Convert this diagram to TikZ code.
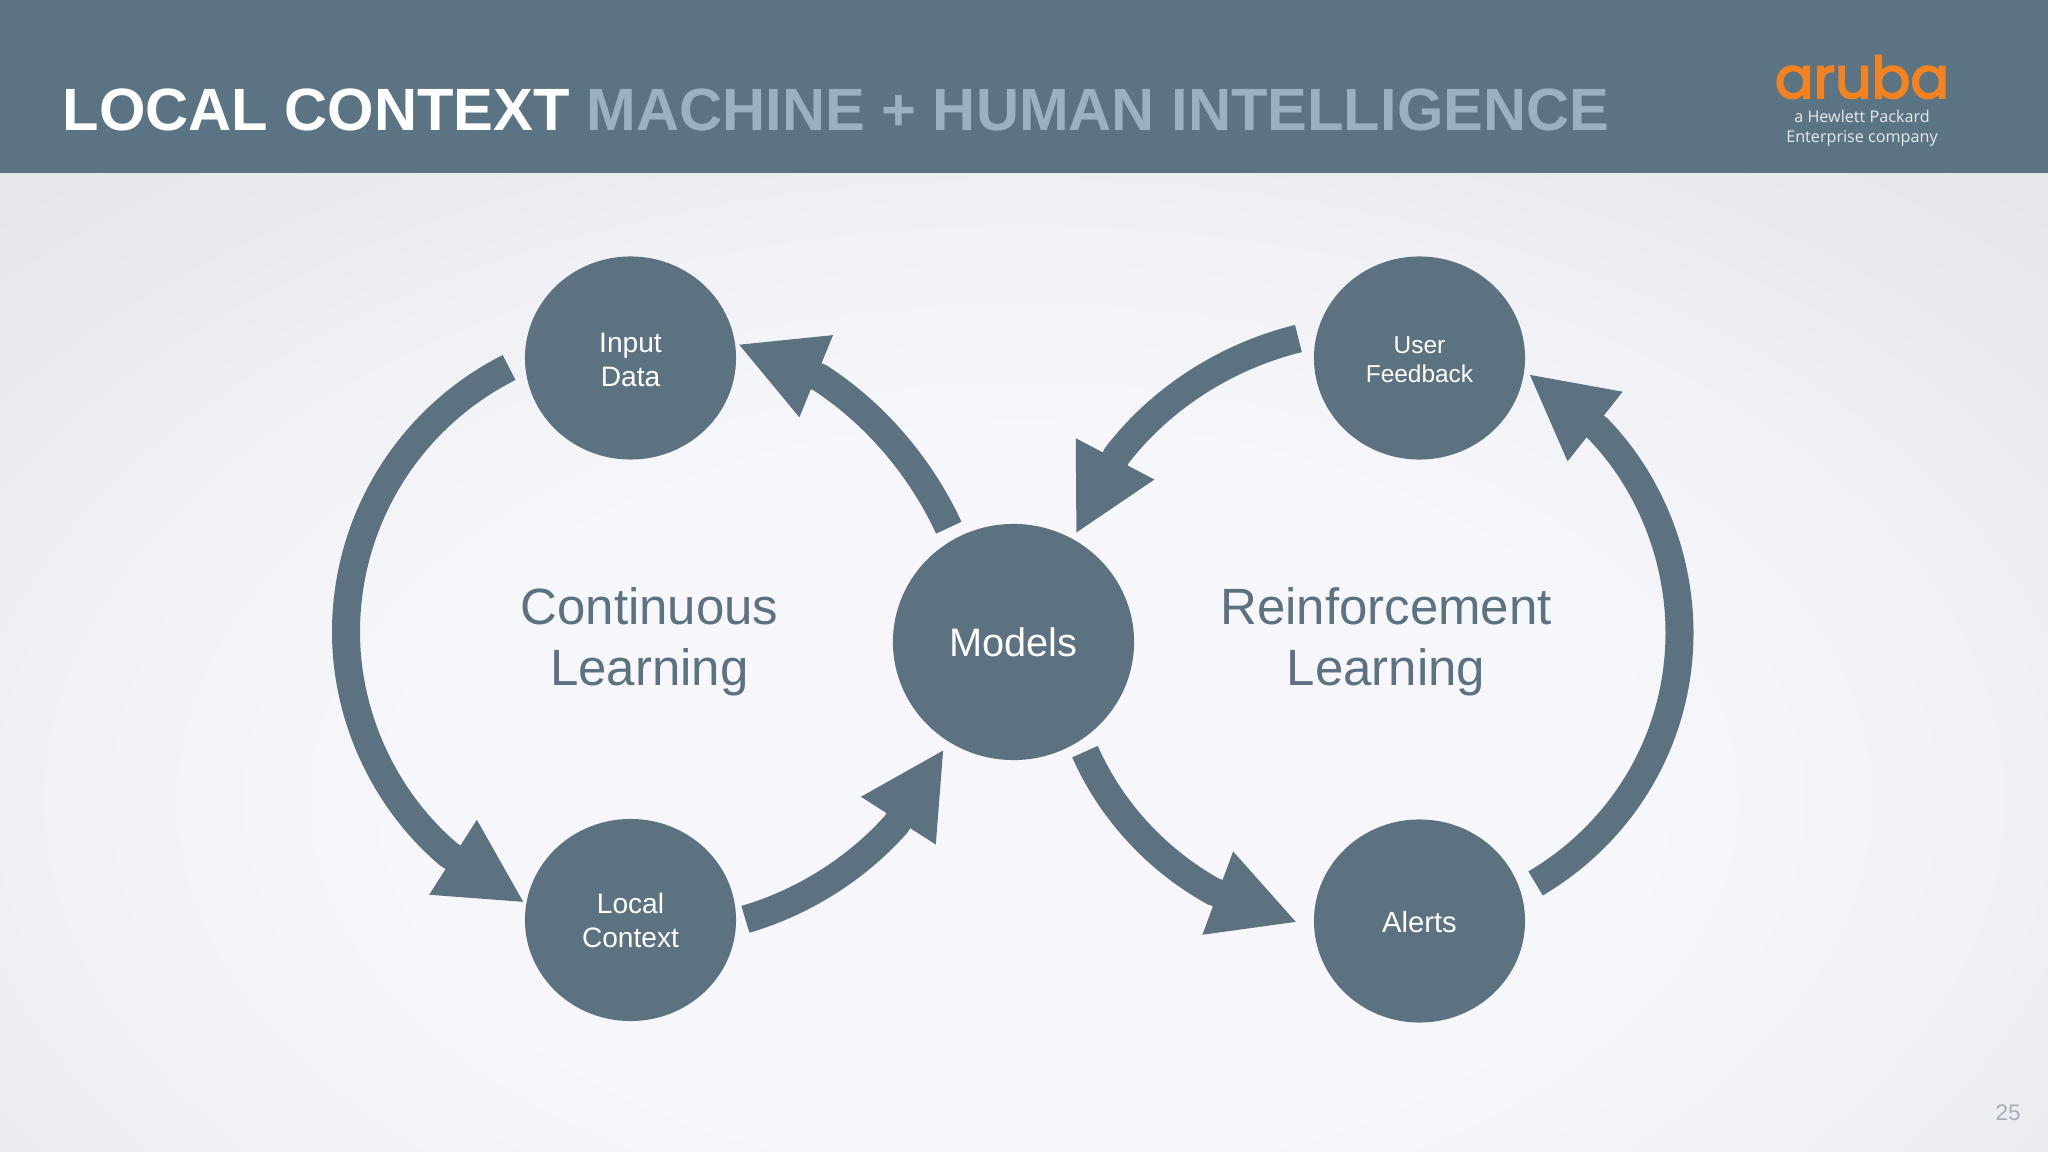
\documentclass[tikz,border=0pt]{standalone}
\usepackage{fontspec}
\setmainfont{Liberation Sans}
\newfontfamily\logofont[FakeBold=3]{Poppins}
\newfontfamily\tagfont{Open Sans}
\usetikzlibrary{arrows.meta,shapes.geometric,positioning}
\definecolor{slate}{HTML}{5C7280}
\definecolor{bandblue}{HTML}{5B7483}
\definecolor{titleblue}{HTML}{98B2C4}
\definecolor{arubaorange}{HTML}{F58220}
\definecolor{pagegray}{HTML}{A3AEB6}
\definecolor{pagemid}{HTML}{F7F7FB}
\definecolor{pagelow}{HTML}{F6F7FA}
\definecolor{pagenear}{HTML}{F0F1F5}
\definecolor{pageedge}{HTML}{EAEBEE}
\definecolor{pagecorner}{HTML}{E6E7EA}
\pgfdeclareradialshading{backdrop}{\pgfpointorigin}{color(0bp)=(pagemid); color(6bp)=(pagemid); color(10bp)=(pagelow); color(16.5bp)=(pagenear); color(19.5bp)=(pageedge); color(23.5bp)=(pagecorner); color(50bp)=(pagecorner)}
\tikzset{
  blob/.style={ellipse,fill=slate,text=white,inner sep=0pt,minimum width=2.11cm,minimum height=2.03cm,align=center,font=\fontsize{8}{9.7}\selectfont},
  loopname/.style={text=slate,align=center,font=\fontsize{14.5}{17.4}\selectfont},
  flow/.style={draw=slate,line width=0.28cm,-{Triangle[length=0.85cm,width=0.82cm]}}
}
\begin{document}
\begin{tikzpicture}[x=0.01cm,y=-0.01cm]
        \useasboundingbox (0,0) rectangle (2048,1152);
        % Backdrop and title band
        \shade[shading=backdrop] (-512,-100) rectangle (2560,1700);
        \fill[bandblue] (0,0) rectangle (2048,173);
        \node[anchor=base west,inner sep=0pt,font=\fontsize{16.97}{20}\selectfont\bfseries,text=white] (title) at (62,130.5) {LOCAL CONTEXT \textcolor{titleblue}{MACHINE + HUMAN INTELLIGENCE}};
        % Logo
        \node[anchor=base,inner sep=0pt,text=arubaorange,font=\fontsize{16.3}{20}\selectfont\logofont] (logo) at (1862,98) {aruba};
        \node[anchor=base,inner sep=0pt,text=white!85!bandblue,align=center,font=\fontsize{4.6}{5.7}\selectfont\tagfont] (tagline) at (1862,143) {a Hewlett Packard\\Enterprise company};
        \node[text=pagegray,inner sep=0pt,font=\fontsize{6.4}{8}\selectfont] (pagenum) at (2008,1113) {25};
        % Circles
        \node[blob] (input) at (630.5,358) {\rule{0pt}{6.6pt}Input\\Data};
        \node[blob,minimum height=2.02cm] (local) at (630.5,920) {Local\\Context};
        \node[blob,minimum width=2.41cm,minimum height=2.36cm,font=\fontsize{11.3}{13}\selectfont] (models) at (1013.5,642) {Models};
        \node[blob,font=\fontsize{6.95}{8.25}\selectfont] (user) at (1419.5,358) {\rule{0pt}{5.9pt}User\\Feedback};
        \node[blob,font=\fontsize{8.3}{10}\selectfont] (alerts) at (1419.5,921) {\rule{0pt}{6.8pt}Alerts};
        % Labels between circles
        \node[loopname] (continuous) at (649.5,642) {Continuous\\Learning};
        \node[loopname] (reinforcement) at (1386,642) {Reinforcement\\Learning};
        % Left loop
        \draw[flow,shorten <=0.12cm,shorten >=0.02cm] (models.120) .. controls (920.4,466.5) and (874.4,413) .. (819.8,377.7) -- (input.8.5);
        \draw[flow,shorten <=0.17cm,shorten >=0.01cm] (input.181) .. controls (409,418) and (346,520) .. (346,632) .. controls (346,718) and (385.4,801) .. (449,854.7) -- (local.171);
        \draw[flow,shorten <=0.09cm,shorten >=0.08cm] (local.-1.4) .. controls (803.7,902.3) and (856.8,868.3) .. (895.9,824.5) -- (models.237);
        % Right loop
        \draw[flow,shorten <=0.115cm,shorten >=0.17cm] (models.-56.6) .. controls (1111.4,811.5) and (1158,860.8) .. (1213.2,891.4) -- (alerts.184.8);
        \draw[flow,shorten <=0.165cm,shorten >=0.045cm] (alerts.16.1) .. controls (1624.5,831) and (1679.5,737) .. (1679.5,633) .. controls (1679.5,556.5) and (1649.2,481.5) .. (1598,428.8) -- (user.-7.4);
        \draw[flow,shorten <=0.183cm,shorten >=0.05cm] (user.167.8) .. controls (1225.8,356.4) and (1160.8,398.4) .. (1116.9,455.4) -- (models.60.6);
\end{tikzpicture}
\end{document}
